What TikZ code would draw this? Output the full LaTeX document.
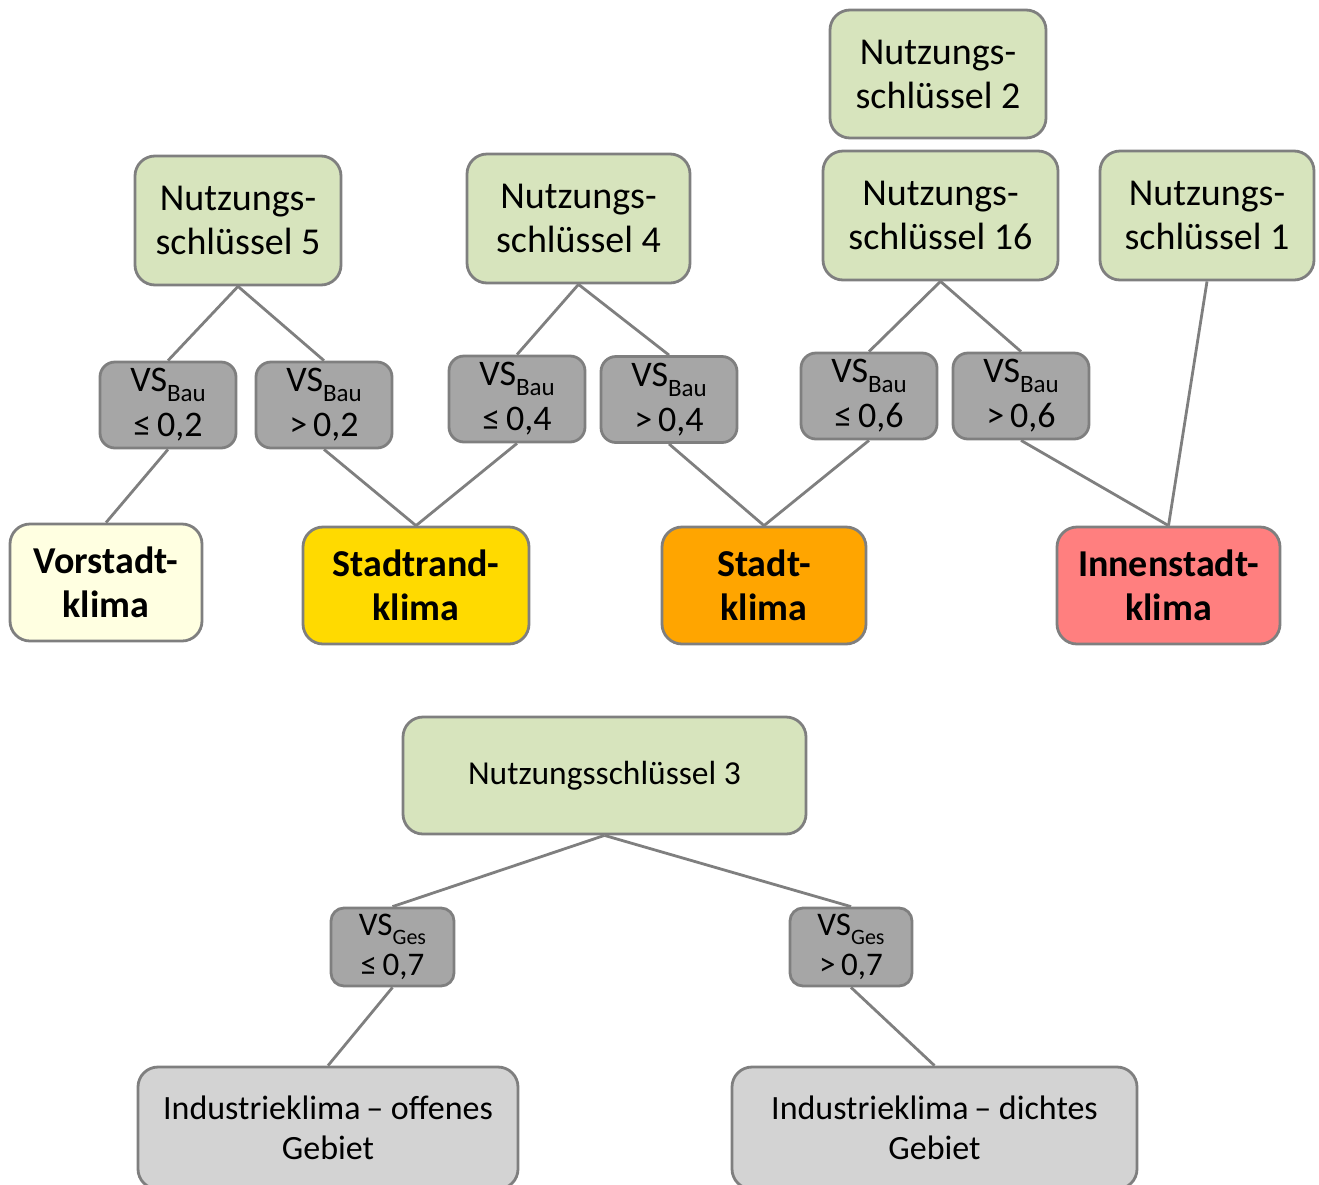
\documentclass[tikz,border=0pt]{standalone}
\usepackage{fontspec}
\setmainfont{Carlito}
\definecolor{nsgreen}{HTML}{D7E4BD}
\definecolor{bordergray}{HTML}{7F7F7F}
\definecolor{vsgray}{HTML}{A6A6A6}
\definecolor{indgray}{HTML}{D3D3D3}
\definecolor{vorstadt}{HTML}{FFFFE1}
\definecolor{stadtrand}{HTML}{FFDA00}
\definecolor{stadt}{HTML}{FFA500}
\definecolor{innen}{HTML}{FF7F7F}
\newcommand{\mysub}[2]{\raisebox{-0.28em}{\fontsize{#1}{#1}\selectfont #2}}
\tikzset{
  box/.style={draw=bordergray, line width=2.8pt, rounded corners=20pt, inner sep=0pt, align=center},
  nsbox/.style={box, fill=nsgreen, font=\fontsize{38}{44}\selectfont},
  vsbox/.style={box, fill=vsgray, rounded corners=15pt, font=\fontsize{36}{45}\selectfont},
  klbox/.style={box, font=\bfseries\fontsize{38}{44}\selectfont},
  indbox/.style={box, fill=indgray, font=\fontsize{34}{40}\selectfont},
  conn/.style={draw=bordergray, line width=2.8pt},
}
\begin{document}
\begin{tikzpicture}[x=1pt,y=-1pt]
\useasboundingbox (0,0) rectangle (1319,1184);
% Nutzungsschluessel boxes
\node[nsbox, minimum width=206pt, minimum height=129pt] (ns5) at (238,220.5) {Nutzungs-\\schlüssel 5};
\node[nsbox, minimum width=223pt, minimum height=129pt] (ns4) at (578.5,218.5) {Nutzungs-\\schlüssel 4};
\node[nsbox, minimum width=216pt, minimum height=128pt] (ns2) at (938,74) {Nutzungs-\\schlüssel 2};
\node[nsbox, minimum width=235pt, minimum height=129pt] (ns16) at (940.5,215.5) {Nutzungs-\\schlüssel 16};
\node[nsbox, minimum width=214pt, minimum height=129pt] (ns1) at (1207,215.5) {Nutzungs-\\schlüssel 1};
% VS boxes
\node[vsbox, minimum width=136pt, minimum height=86pt] (v02a) at (168,405) {VS\mysub{25}{Bau}\\≤\,0,2};
\node[vsbox, minimum width=136pt, minimum height=86pt] (v02b) at (324,405) {VS\mysub{25}{Bau}\\>\,0,2};
\node[vsbox, minimum width=136pt, minimum height=86pt] (v04a) at (517,399) {VS\mysub{25}{Bau}\\≤\,0,4};
\node[vsbox, minimum width=136pt, minimum height=86pt] (v04b) at (669,399.5) {VS\mysub{25}{Bau}\\>\,0,4};
\node[vsbox, minimum width=136pt, minimum height=86pt] (v06a) at (869,396) {VS\mysub{25}{Bau}\\≤\,0,6};
\node[vsbox, minimum width=136pt, minimum height=86pt] (v06b) at (1021,396) {VS\mysub{25}{Bau}\\>\,0,6};
% Klima boxes
\node[klbox, fill=vorstadt, minimum width=192pt, minimum height=117pt] (vor) at (106,582.5) {Vorstadt-\\klima};
\node[klbox, fill=stadtrand, minimum width=226pt, minimum height=117pt] (rand) at (416,585.5) {Stadtrand-\\klima};
\node[klbox, fill=stadt, minimum width=204pt, minimum height=117pt] (stadt) at (764,585.5) {Stadt-\\klima};
\node[klbox, fill=innen, minimum width=223pt, minimum height=117pt] (innen) at (1168.5,585.5) {Innenstadt-\\klima};
% lower tree
\node[nsbox, font=\fontsize{33.5}{40}\selectfont, minimum width=403pt, minimum height=117pt] (ns3) at (604.5,775.5) {Nutzungsschlüssel 3};
\node[vsbox, rounded corners=13pt, font=\fontsize{33}{40}\selectfont, minimum width=123pt, minimum height=78pt] (g07a) at (392.5,947) {VS\mysub{22}{Ges}\\≤\,0,7};
\node[vsbox, rounded corners=13pt, font=\fontsize{33}{40}\selectfont, minimum width=122pt, minimum height=78pt] (g07b) at (851,947) {VS\mysub{22}{Ges}\\>\,0,7};
\node[indbox, minimum width=380pt, minimum height=122pt] (ioff) at (328,1128) {Industrieklima\,– offenes\\Gebiet};
\node[indbox, minimum width=405pt, minimum height=122pt] (idicht) at (934.5,1128) {Industrieklima\,– dichtes\\Gebiet};
% connectors
\draw[conn] (ns5.south) -- (v02a.north);
\draw[conn] (ns5.south) -- (v02b.north);
\draw[conn] (v02a.south) -- (vor.north);
\draw[conn] (v02b.south) -- (rand.north);
\draw[conn] (v04a.south) -- (rand.north);
\draw[conn] (ns4.south) -- (v04a.north);
\draw[conn] (ns4.south) -- (v04b.north);
\draw[conn] (v04b.south) -- (stadt.north);
\draw[conn] (v06a.south) -- (stadt.north);
\draw[conn] (ns16.south) -- (v06a.north);
\draw[conn] (ns16.south) -- (v06b.north);
\draw[conn] (v06b.south) -- (innen.north);
\draw[conn] (ns1.south) -- (innen.north);
\draw[conn] (ns3.south) -- (g07a.north);
\draw[conn] (ns3.south) -- (g07b.north);
\draw[conn] (g07a.south) -- (ioff.north);
\draw[conn] (g07b.south) -- (idicht.north);
\end{tikzpicture}
\end{document}
